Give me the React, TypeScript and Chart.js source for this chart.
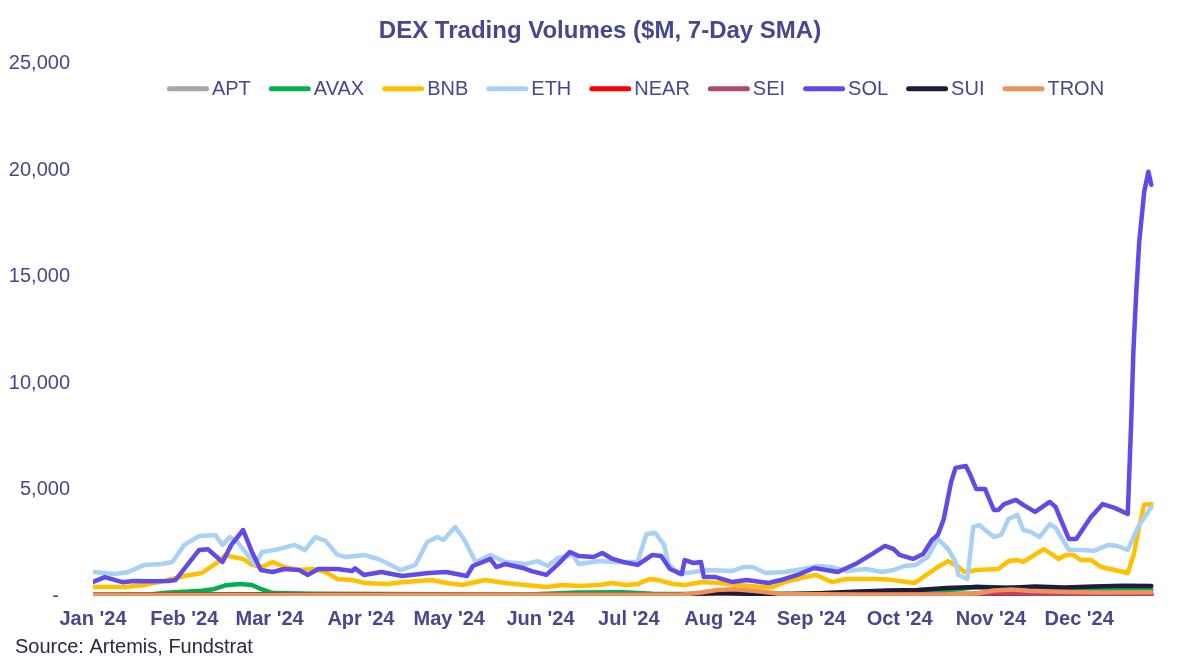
import React, { useEffect, useRef } from "react";
import { Chart, registerables } from "chart.js";

Chart.register(...registerables);

// ---------- texts ----------
const TITLE = "DEX Trading Volumes ($M, 7-Day SMA)";
const SOURCE = "Source: Artemis, Fundstrat";

// ---------- x axis (day index, 0 = 1 Jan 2024) ----------
const MONTH_LABELS = ["Jan '24", "Feb '24", "Mar '24", "Apr '24", "May '24", "Jun '24", "Jul '24", "Aug '24", "Sep '24", "Oct '24", "Nov '24", "Dec '24"];
const MONTH_START_DAYS = [0, 31, 60, 91, 121, 152, 182, 213, 244, 274, 305, 335];
const X_MAX_DAY = 374;

// ---------- y axis ----------
const Y_MIN = 0;
const Y_MAX = 25000;
const Y_STEP = 5000;

// ---------- series: [day, value $M] ----------
const APT_POINTS = [[0, 40], [100, 40], [200, 50], [280, 60], [300, 130], [320, 100], [340, 110], [359.5, 120]];
const AVAX_POINTS = [[0, 60], [20, 80], [25, 150], [37, 250], [41, 320], [45, 500], [50, 560], [54, 520], [57, 330], [61, 140], [75, 100], [100, 90], [130, 70], [150, 80], [165, 160], [180, 180], [190, 110], [210, 90], [240, 120], [270, 150], [288, 220], [296, 350], [300, 430], [310, 400], [320, 360], [330, 300], [345, 280], [359.5, 300]];
const BNB_POINTS = [[0, 420], [11, 420], [17.5, 520], [25.5, 750], [31, 940], [37, 1080], [42.5, 1600], [45, 1930], [47.5, 1830], [51, 1740], [54, 1460], [57.5, 1360], [61, 1600], [65, 1360], [70, 1220], [74.5, 1270], [79, 1130], [83, 800], [88, 750], [92.5, 610], [100, 560], [106, 660], [115, 750], [120, 610], [125.5, 520], [133, 750], [140, 610], [147, 520], [154, 420], [159.5, 520], [165, 470], [172, 520], [176.5, 610], [181, 520], [185, 560], [189, 800], [192, 750], [197, 560], [201, 520], [207, 660], [212.5, 610], [219, 520], [227.5, 420], [231, 420], [235, 660], [242, 890], [245.5, 990], [251, 660], [256, 800], [265, 800], [270, 780], [279, 610], [282, 890], [287, 1360], [290.5, 1640], [294, 1360], [296, 1130], [300.5, 1220], [307.5, 1270], [311, 1640], [314, 1690], [316, 1600], [323, 2200], [326, 1930], [328, 1740], [330.5, 1930], [333, 1930], [335.5, 1690], [339, 1690], [342.5, 1360], [347, 1220], [351.5, 1080], [353.5, 1930], [355.5, 3340], [357, 4280], [359.5, 4320]];
const ETH_POINTS = [[0, 1130], [7.5, 1030], [12, 1130], [17.5, 1460], [23.5, 1500], [27, 1600], [31, 2400], [36, 2820], [41.5, 2870], [44, 2400], [46.5, 2770], [49, 2540], [52.5, 1930], [55, 1500], [57.5, 2070], [63, 2200], [68.5, 2400], [72, 2160], [75.5, 2770], [79, 2590], [83, 1930], [86, 1830], [92, 1930], [97, 1740], [104.5, 1220], [109.5, 1460], [113.5, 2540], [117, 2770], [119, 2630], [123, 3240], [126, 2680], [130, 1600], [135, 1930], [140, 1600], [147, 1500], [151, 1640], [154.5, 1410], [158, 1790], [163, 1930], [165, 1500], [172, 1640], [176.5, 1600], [185, 1600], [188, 2910], [191, 2960], [194, 2400], [195.5, 1500], [199, 1030], [204, 1130], [208, 1220], [217, 1170], [221, 1360], [224, 1360], [228.5, 1080], [235, 1130], [241, 1270], [246.5, 1410], [251, 1360], [256, 1170], [262.5, 1270], [268, 1130], [272, 1220], [275.5, 1410], [279.5, 1460], [283.5, 1830], [287, 2680], [290.5, 2200], [293, 1600], [294, 990], [297, 800], [299, 3240], [301, 3340], [306, 2770], [308.5, 2870], [311, 3620], [314, 3810], [316, 3100], [318.5, 3010], [321.5, 2770], [325, 3380], [327, 3200], [331.5, 2160], [335.5, 2160], [340, 2120], [345, 2400], [348, 2350], [351.5, 2160], [355, 3240], [359.5, 4180]];
const NEAR_POINTS = [[0, 40], [100, 50], [200, 30], [300, 60], [359.5, 70]];
const SEI_POINTS = [[0, 30], [150, 20], [280, 30], [300, 80], [308, 150], [316, 120], [330, 60], [359.5, 50]];
const SOL_POINTS = [[0, 660], [4, 890], [10, 650], [14, 700], [19, 690], [25.5, 700], [28, 750], [31, 1270], [36, 2160], [39, 2200], [44, 1600], [47, 2400], [51, 3100], [54, 2070], [57, 1220], [61, 1130], [65, 1270], [70, 1220], [73, 990], [76.5, 1270], [83, 1270], [88, 1170], [89, 1300], [92, 990], [98, 1130], [105, 940], [114, 1080], [120, 1130], [127, 940], [129, 1410], [135, 1740], [137, 1360], [140, 1500], [146, 1316], [149, 1170], [154, 990], [158, 1500], [162, 2070], [165, 1880], [170, 1830], [173, 2020], [176.5, 1740], [180, 1600], [185, 1460], [190, 1930], [193, 1880], [196, 1270], [200, 1030], [201, 1690], [204, 1550], [206.5, 1600], [207.5, 890], [211.5, 890], [217, 660], [222, 750], [229.5, 610], [235, 800], [240, 1030], [245, 1316], [253, 1130], [259, 1500], [265, 2000], [269, 2350], [272, 2200], [274, 1930], [278.5, 1740], [282, 1970], [285, 2630], [287, 2870], [289, 3620], [291.5, 5360], [293, 6020], [296.5, 6110], [298, 5690], [300, 5030], [303, 5030], [306, 4040], [307.5, 4040], [309.5, 4320], [313.5, 4510], [316, 4280], [320, 3950], [325, 4420], [327, 4180], [331.5, 2680], [334, 2680], [339, 3710], [343, 4320], [347, 4140], [351.5, 3850], [352.7, 8320], [353.4, 11470], [354.4, 14300], [355.4, 16640], [357.1, 19000], [358.5, 19930], [359.5, 19320]];
const SUI_POINTS = [[0, 60], [30, 70], [60, 80], [100, 60], [150, 50], [200, 60], [207, 120], [214, 170], [222, 100], [232, 60], [245, 120], [258, 200], [270, 260], [280, 280], [290, 380], [300, 420], [310, 380], [320, 450], [330, 400], [340, 450], [350, 480], [359.5, 470]];
const TRON_POINTS = [[0, 60], [100, 60], [200, 70], [206, 150], [212, 280], [218, 320], [226, 220], [234, 90], [260, 70], [290, 80], [300, 120], [306, 260], [312, 300], [318, 250], [328, 200], [340, 160], [359.5, 180]];

const SERIES_NAMES = ["APT", "AVAX", "BNB", "ETH", "NEAR", "SEI", "SOL", "SUI", "TRON"];
const SERIES_POINTS = [APT_POINTS, AVAX_POINTS, BNB_POINTS, ETH_POINTS, NEAR_POINTS, SEI_POINTS, SOL_POINTS, SUI_POINTS, TRON_POINTS];

// ---------- styles ----------
const SERIES_COLORS = ["#A6A6A6", "#00B050", "#FFC000", "#A9D0F5", "#FF0000", "#B0486A", "#6249EA", "#1C1C3C", "#F0905A"];
const TEXT_COLOR = "#47478F";
const SOURCE_COLOR = "#2A2A38";
const FONT_FAMILY = '"Liberation Sans", Arial, Helvetica, sans-serif';

const overlayText = {
  id: "overlayText",
  afterDraw(chart: any) {
    const ctx = chart.ctx as CanvasRenderingContext2D;
    const area = chart.chartArea;
    const lineLen = 37;
    const lineW = 5;
    const gapLineText = 3;
    const gapItems = 18;
    ctx.save();
    ctx.font = `20px ${FONT_FAMILY}`;
    const items = chart.data.datasets.map((ds: any) => ({
      label: ds.label as string,
      color: ds.borderColor as string,
      w: ctx.measureText(ds.label).width,
    }));
    const itemWidth = (it: any) => lineLen + lineW + gapLineText + it.w;
    const total = items.reduce((s: number, it: any) => s + itemWidth(it), 0) + gapItems * (items.length - 1);
    let x = (area.left + area.right) / 2 - total / 2 - 8;
    const y = area.top + 25;
    ctx.textBaseline = "middle";
    ctx.textAlign = "left";
    for (const it of items) {
      ctx.beginPath();
      ctx.strokeStyle = it.color;
      ctx.lineWidth = lineW;
      ctx.lineCap = "round";
      ctx.moveTo(x + lineW / 2, y);
      ctx.lineTo(x + lineW / 2 + lineLen, y);
      ctx.stroke();
      ctx.fillStyle = TEXT_COLOR;
      ctx.fillText(it.label, x + lineLen + lineW + gapLineText, y + 1);
      x += itemWidth(it) + gapItems;
    }
    // source note
    ctx.fillStyle = SOURCE_COLOR;
    ctx.textBaseline = "middle";
    ctx.fillText(SOURCE, 15, chart.height - 19);
    ctx.restore();
  },
};

export default function App() {
  const canvasRef = useRef<HTMLCanvasElement | null>(null);

  useEffect(() => {
    if (!canvasRef.current) return;
    Chart.defaults.font.family = FONT_FAMILY;
    const chart = new Chart(canvasRef.current, {
      type: "line",
      data: {
        datasets: SERIES_NAMES.map((name, i) => ({
          label: name,
          data: SERIES_POINTS[i].map(([x, y]) => ({ x, y })),
          borderColor: SERIES_COLORS[i],
          backgroundColor: SERIES_COLORS[i],
          borderWidth: 4.5,
          pointRadius: 0,
          pointHoverRadius: 0,
          tension: 0,
          fill: false,
          borderCapStyle: "round",
          borderJoinStyle: "round",
          order: -i,
        })),
      },
      options: {
        animation: false,
        responsive: false,
        events: [],
        layout: { padding: { left: 6, right: 6, top: 0, bottom: 24 } },
        plugins: {
          legend: { display: false },
          tooltip: { enabled: false },
          title: {
            display: true,
            text: TITLE,
            color: TEXT_COLOR,
            font: { size: 24, weight: "bold" },
            padding: { top: 17, bottom: 18 },
          },
        },
        scales: {
          x: {
            type: "linear",
            min: 0,
            max: X_MAX_DAY,
            grid: { display: false, drawTicks: false },
            border: { display: false },
            afterBuildTicks: (scale: any) => {
              scale.ticks = MONTH_START_DAYS.map((v) => ({ value: v }));
            },
            ticks: {
              autoSkip: false,
              maxRotation: 0,
              color: TEXT_COLOR,
              font: { size: 20, weight: "bold" },
              padding: 11,
              callback: (_v: any, i: number) => MONTH_LABELS[i],
            },
          },
          y: {
            min: Y_MIN,
            max: Y_MAX,
            grid: { display: false, drawTicks: false },
            border: { display: false },
            afterFit: (scale: any) => {
              scale.width = 87;
            },
            ticks: {
              stepSize: Y_STEP,
              color: TEXT_COLOR,
              font: { size: 20 },
              padding: 23,
              callback: (v: any) => (Number(v) === 0 ? "-  " : Number(v).toLocaleString("en-US")),
            },
          },
        },
      },
      plugins: [overlayText],
    } as any);
    return () => chart.destroy();
  }, []);

  return (
    <div style={{ position: "absolute", left: 0, top: 0, width: 1200, height: 666, background: "#ffffff" }}>
      <canvas ref={canvasRef} width={1200} height={666} />
    </div>
  );
}
